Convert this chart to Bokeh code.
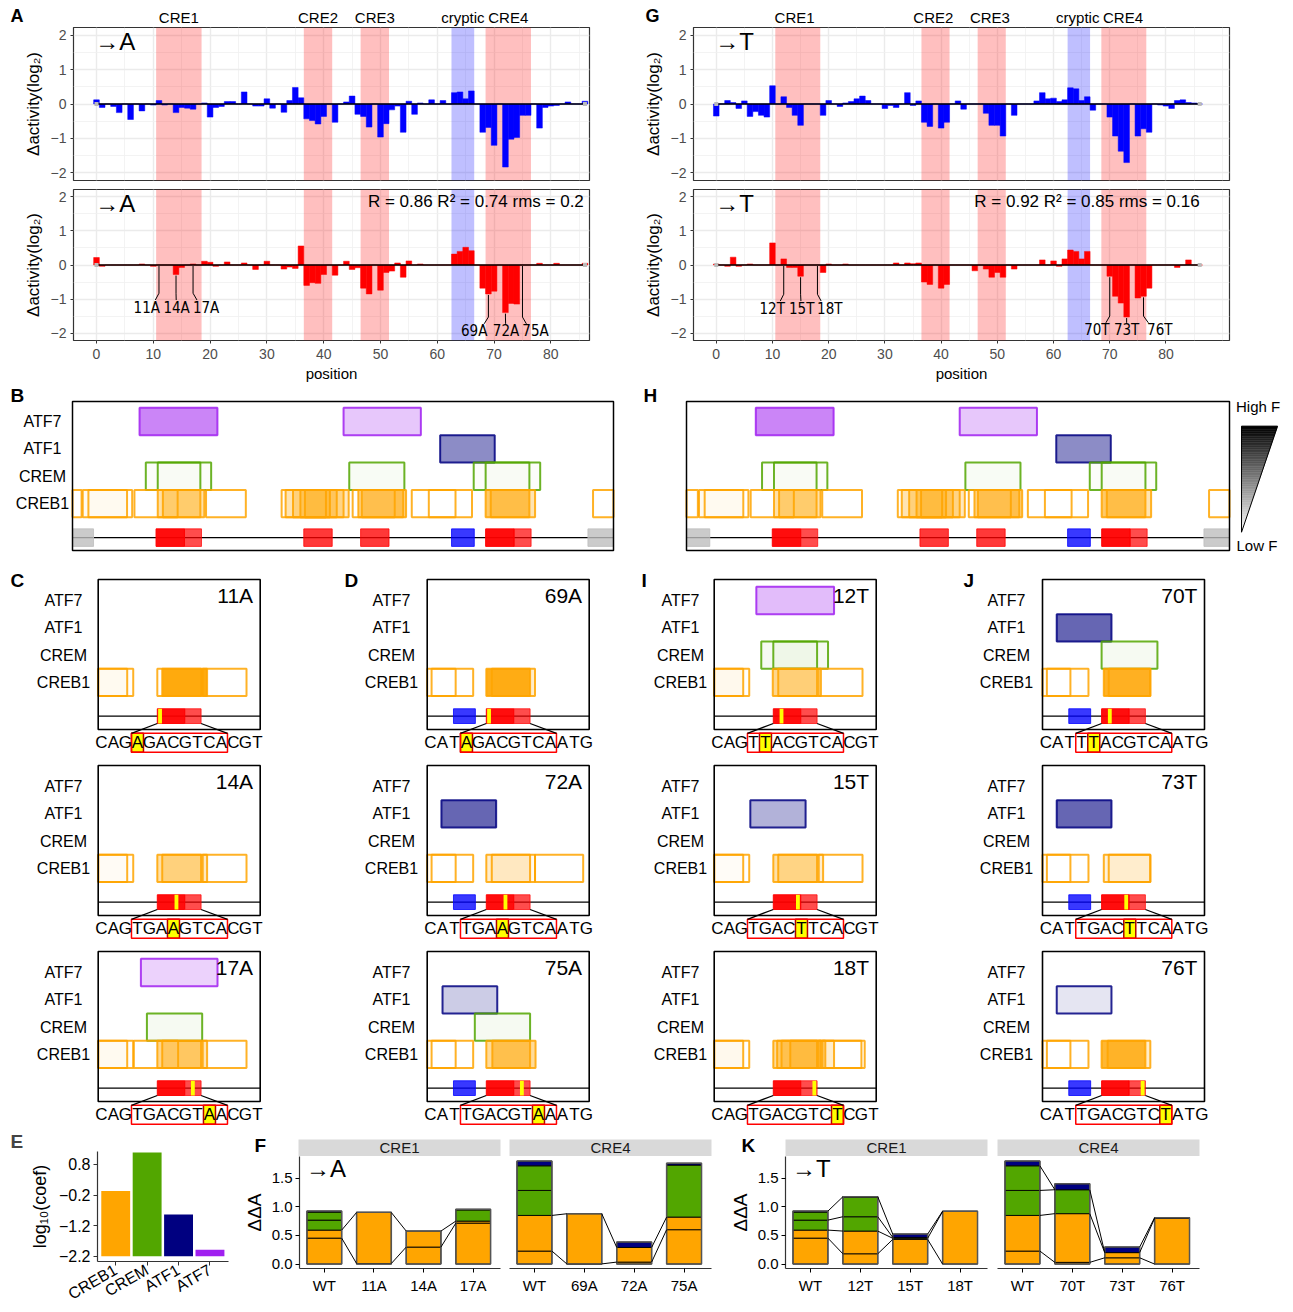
import math
import numpy as np
from bokeh.plotting import figure
from bokeh.models import Range1d, FixedTicker, BoxAnnotation
from bokeh.layouts import column, row
from bokeh.core.properties import value
from bokeh.embed import file_html
from bokeh.resources import INLINE

FONT = "Liberation Sans"
NARROW = "DejaVu Sans Condensed, Liberation Sans, sans-serif"

# ======================= DATA =======================
POSITIONS = list(range(87))
ACT_A_MEASURED = [0.12, -0.1, 0, -0.07, -0.25, 0, -0.45, 0, -0.2, 0,
                  -0.03, 0.1, -0.03, 0, -0.25, -0.1, -0.12, -0.15, 0, 0.03,
                  -0.38, -0.1, -0.07, 0.07, 0.07, 0, 0.35, 0, -0.06, -0.06,
                  0.15, -0.12, 0, -0.24, 0.1, 0.48, 0.18, -0.43, -0.48, -0.58,
                  -0.36, 0, -0.53, 0, 0.06, 0.23, -0.3, -0.36, -0.67, 0,
                  -0.96, -0.57, -0.17, -0.06, -0.82, 0.08, -0.3, 0.03, 0, 0.12,
                  0, 0.1, 0, 0.33, 0.35, 0.15, 0.38, 0, -0.82, -0.68,
                  -1.2, 0, -1.83, -1.02, -0.97, -0.33, -0.33, 0, -0.7, -0.1,
                  -0.06, -0.04, 0, 0.06, 0, 0, 0.08]
ACT_A_MODEL = [0.22, -0.04, 0, 0, 0, 0, 0, 0, 0.03, 0,
               -0.04, 0, 0, 0, -0.28, -0.07, 0, 0.03, 0, 0.11,
               0.08, -0.04, 0, 0.09, 0, 0, 0.06, 0, -0.13, 0,
               0.11, 0, 0, -0.12, -0.06, -0.1, 0.56, -0.6, -0.52, -0.54,
               -0.28, 0, -0.3, 0, 0.11, -0.13, -0.08, -0.68, -0.85, 0,
               -0.74, -0.22, -0.18, 0.06, -0.36, 0.12, 0, 0.03, 0, 0,
               0, 0, 0, 0.32, 0.4, 0.52, 0.42, 0, -0.68, -0.85,
               -0.77, 0, -1.4, -1.13, -1.15, 0, 0, 0, 0.05, 0,
               0, 0.05, 0, 0, 0, 0, 0.05]
ACT_T_MEASURED = [-0.35, 0, 0.1, 0.04, -0.13, 0.09, -0.36, -0.22, -0.33, -0.38,
                  0.53, 0, 0.21, -0.1, -0.33, -0.62, 0, 0, 0, -0.33,
                  0.1, 0, -0.07, 0.03, 0.07, 0.15, 0.23, 0.1, 0, 0,
                  -0.13, -0.04, -0.1, 0, 0.33, -0.04, 0.09, -0.53, -0.65, 0,
                  -0.7, -0.53, 0, 0.09, -0.15, 0, 0, 0, -0.27, -0.62,
                  -0.62, -0.93, 0, -0.33, 0, 0, 0, 0.09, 0.33, 0.15,
                  0.17, 0.07, 0.12, 0.47, 0.44, 0.1, 0.21, -0.18, 0, 0,
                  -0.38, -0.93, -1.37, -1.7, 0, -0.93, -0.72, -0.82, 0, -0.03,
                  -0.06, -0.13, 0.1, 0.12, 0.04, 0.03, 0]
ACT_T_MODEL = [0.03, 0, -0.04, 0.23, -0.04, 0, 0.03, 0, 0, 0,
               0.65, 0, 0.18, -0.07, -0.07, -0.33, 0, 0, 0, -0.22,
               0.03, 0, 0, 0.03, 0, 0, 0, 0, 0, 0,
               0, 0, 0.06, 0, 0.06, 0.04, 0.06, -0.5, -0.57, 0,
               -0.68, -0.57, 0, 0, 0, 0, -0.17, 0, -0.12, -0.36,
               -0.22, -0.36, 0, -0.12, 0, 0, 0, 0, 0.15, 0,
               0.12, -0.04, 0.18, 0.44, 0.4, 0.18, 0.4, 0, 0, 0,
               -0.33, -0.92, -1.12, -1.53, 0, -0.97, -0.92, -0.68, 0, 0,
               0, 0, -0.07, 0, 0.15, 0, 0]

REGION_NAMES = ["CRE1", "CRE2", "CRE3", "cryptic", "CRE4"]
REGION_START = [10.5, 36.5, 46.5, 62.5, 68.5]
REGION_END = [18.5, 41.5, 51.5, 66.5, 76.5]
REGION_COLOR = ["red", "red", "red", "blue", "red"]

MUT_A_NAMES = ["11A", "14A", "17A", "69A", "72A", "75A"]
MUT_A_POS = [11, 14, 17, 69, 72, 75]
MUT_A_LABEL_X = [8.85, 14.1, 19.3, 66.5, 72.1, 77.3]
MUT_A_LABEL_Y = [-1.25, -1.25, -1.25, -1.95, -1.95, -1.95]
MUT_T_NAMES = ["12T", "15T", "18T", "70T", "73T", "76T"]
MUT_T_POS = [12, 15, 18, 70, 73, 76]
MUT_T_LABEL_X = [9.95, 15.2, 20.2, 67.7, 73.0, 78.9]
MUT_T_LABEL_Y = [-1.28, -1.28, -1.28, -1.92, -1.92, -1.92]
STATS_A = "R = 0.86 R² = 0.74 rms = 0.2"
STATS_T = "R = 0.92 R² = 0.85 rms = 0.16"

TF_NAMES = ["CREB1", "CREM", "ATF1", "ATF7"]
TF_COLORS = ["#FFA500", "#52A600", "#000080", "#A020F0"]

# binding sites: (factor, start, end, occupancy shading)
SITES_WT = [
    ("ATF7", 7.6, 21.3, 0.55), ("ATF7", 43.5, 57.1, 0.25),
    ("ATF1", 60.5, 70.1, 0.45),
    ("CREM", 8.7, 20.2, 0.02), ("CREM", 10.8, 18.3, 0.02), ("CREM", 44.5, 54.2, 0.04),
    ("CREM", 66.4, 78.1, 0.02), ("CREM", 68.5, 76.2, 0.02),
    ("CREB1", -10.4, -2.6, 0.0), ("CREB1", -2.4, 5.4, 0.06), ("CREB1", -1.4, 6.3, 0.0),
    ("CREB1", 6.7, 14.3, 0.0), ("CREB1", 10.8, 18.3, 0.35), ("CREB1", 11.7, 19.0, 0.35),
    ("CREB1", 19.3, 26.3, 0.0),
    ("CREB1", 32.6, 40.4, 0.0), ("CREB1", 33.3, 41.1, 0.3), ("CREB1", 34.6, 42.3, 0.3),
    ("CREB1", 35.9, 43.5, 0.3), ("CREB1", 36.7, 44.4, 0.25),
    ("CREB1", 45.1, 52.5, 0.0), ("CREB1", 46.1, 54.0, 0.45), ("CREB1", 46.7, 54.5, 0.45),
    ("CREB1", 55.5, 63.2, 0.0), ("CREB1", 58.5, 66.1, 0.0),
    ("CREB1", 68.5, 76.2, 0.6), ("CREB1", 69.4, 77.2, 0.3),
    ("CREB1", 87.4, 95.0, 0.0),
]

ELEM_START = [10.5, 15.5, 36.5, 46.5, 62.5, 68.5, 73.5]
ELEM_END = [15.5, 18.5, 41.5, 51.5, 66.5, 73.5, 76.5]
ELEM_COLOR = ["red", "red", "red", "red", "blue", "red", "red"]
ELEM_ALPHA = [0.95, 0.7, 0.78, 0.78, 0.78, 0.95, 0.7]
FLANK_START = [-10.0, 86.5]
FLANK_END = [-0.5, 100.0]

MINI_WIN = {"CRE1": (-0.3, 29.3), "CRE4": (57.7, 87.3)}
SEQ_FIRST = {"CRE1": 8, "CRE4": 66}

MINI_11A = [("CREB1", -3.0, 5.0, 0.06), ("CREB1", -3.0, 6.1, 0.0), ("CREB1", 10.5, 18.5, 0.0),
            ("CREB1", 11.4, 19.6, 0.95), ("CREB1", 18.8, 26.8, 0.0)]
MINI_14A = [("CREB1", -3.0, 5.0, 0.04), ("CREB1", -3.0, 6.1, 0.0), ("CREB1", 10.5, 18.5, 0.35),
            ("CREB1", 11.4, 19.6, 0.25), ("CREB1", 18.8, 26.8, 0.0)]
MINI_17A = [("ATF7", 7.5, 21.5, 0.2), ("CREM", 8.6, 18.7, 0.05),
            ("CREB1", -3.0, 5.0, 0.06), ("CREB1", -3.0, 6.1, 0.0), ("CREB1", 6.2, 14.3, 0.0),
            ("CREB1", 10.5, 18.5, 0.45), ("CREB1", 11.4, 19.6, 0.3), ("CREB1", 18.8, 26.8, 0.0)]
MINI_69A = [("CREB1", 55.5, 62.9, 0.0), ("CREB1", 58.5, 66.1, 0.0),
            ("CREB1", 68.5, 76.5, 0.9), ("CREB1", 69.5, 77.4, 0.2)]
MINI_72A = [("ATF1", 60.3, 70.3, 0.6),
            ("CREB1", 55.5, 62.9, 0.0), ("CREB1", 58.5, 66.1, 0.0),
            ("CREB1", 68.5, 76.5, 0.2), ("CREB1", 69.5, 77.4, 0.05), ("CREB1", 77.4, 86.2, 0.0)]
MINI_75A = [("ATF1", 60.5, 70.5, 0.2), ("CREM", 66.4, 76.5, 0.05),
            ("CREB1", 55.5, 62.9, 0.0), ("CREB1", 58.5, 66.1, 0.0),
            ("CREB1", 68.5, 77.5, 0.4), ("CREB1", 69.6, 76.5, 0.5)]
MINI_12T = [("ATF7", 7.4, 21.6, 0.3), ("CREM", 8.3, 20.5, 0.05), ("CREM", 10.5, 18.5, 0.04),
            ("CREB1", -3.0, 5.0, 0.07), ("CREB1", -3.0, 6.1, 0.0),
            ("CREB1", 10.4, 18.5, 0.45), ("CREB1", 11.4, 19.2, 0.15), ("CREB1", 18.8, 26.8, 0.0)]
MINI_15T = [("ATF1", 6.3, 16.4, 0.3),
            ("CREB1", -3.0, 5.0, 0.03), ("CREB1", -3.0, 6.1, 0.0),
            ("CREB1", 10.5, 18.5, 0.35), ("CREB1", 11.4, 19.6, 0.2), ("CREB1", 18.8, 26.8, 0.0)]
MINI_18T = [("CREB1", -3.0, 5.0, 0.07), ("CREB1", -3.0, 6.1, 0.0),
            ("CREB1", 10.5, 18.5, 0.4), ("CREB1", 11.2, 19.2, 0.3), ("CREB1", 12.0, 20.0, 0.25),
            ("CREB1", 13.6, 21.6, 0.2), ("CREB1", 18.8, 26.6, 0.0), ("CREB1", 19.5, 27.2, 0.0)]
MINI_70T = [("ATF1", 60.3, 70.3, 0.6), ("CREM", 68.5, 78.7, 0.05),
            ("CREB1", 55.5, 62.8, 0.0), ("CREB1", 58.5, 66.1, 0.0),
            ("CREB1", 68.9, 77.4, 0.85), ("CREB1", 69.8, 77.4, 0.1)]
MINI_73T = [("ATF1", 60.3, 70.3, 0.6),
            ("CREB1", 55.5, 62.8, 0.0), ("CREB1", 58.5, 66.1, 0.0),
            ("CREB1", 68.9, 77.4, 0.15), ("CREB1", 69.8, 77.4, 0.05)]
MINI_76T = [("ATF1", 60.3, 70.3, 0.1),
            ("CREB1", 55.5, 62.8, 0.0), ("CREB1", 58.5, 66.1, 0.0),
            ("CREB1", 68.5, 76.5, 0.8), ("CREB1", 69.6, 77.4, 0.2)]

SEQ_11A = "CAGAGACGTCACGT"
SEQ_14A = "CAGTGAAGTCACGT"
SEQ_17A = "CAGTGACGTAACGT"
SEQ_69A = "CATAGACGTCAATG"
SEQ_72A = "CATTGAAGTCAATG"
SEQ_75A = "CATTGACGTAAATG"
SEQ_12T = "CAGTTACGTCACGT"
SEQ_15T = "CAGTGACTTCACGT"
SEQ_18T = "CAGTGACGTCTCGT"
SEQ_70T = "CATTTACGTCAATG"
SEQ_73T = "CATTGACTTCAATG"
SEQ_76T = "CATTGACGTCTATG"

E_TF = ["CREB1", "CREM", "ATF1", "ATF7"]
E_LOG10_COEF = [-0.07, 1.19, -0.84, -1.99]
E_BASE = -2.2

# stacked segments: CREB1 site a, CREB1 site b, CREM a, CREM b, ATF1, ATF7
F_CRE1_LABELS = ["WT", "11A", "14A", "17A"]
F_CRE1_SEGS = [[0.453, 0.14, 0.174, 0.14, 0.017, 0], [0.01, 0.89, 0, 0, 0.003, 0],
               [0.297, 0.279, 0, 0, 0, 0], [0.715, 0.035, 0.195, 0, 0.01, 0]]
F_CRE1_LINKS = [[1, 2], [1, 2], [1, 2]]
F_CRE4_LABELS = ["WT", "69A", "72A", "75A"]
F_CRE4_SEGS = [[0.227, 0.622, 0.436, 0.43, 0.082, 0], [0.003, 0.875, 0, 0, 0, 0],
               [0.035, 0.255, 0, 0, 0.094, 0], [0.6, 0.22, 0.907, 0, 0.033, 0]]
F_CRE4_LINKS = [[1, 2], [1, 2], [1, 2]]
K_CRE1_LABELS = ["WT", "12T", "15T", "18T"]
K_CRE1_SEGS = [[0.453, 0.14, 0.174, 0.14, 0.017, 0], [0.18, 0.396, 0.25, 0.343, 0.005, 0],
               [0.43, 0.02, 0.015, 0, 0.058, 0], [0.0, 0.918, 0, 0, 0.005, 0]]
K_CRE1_LINKS = [[1, 2, 3, 5], [1, 2, 3, 5], [1, 2, 5]]
K_CRE4_LABELS = ["WT", "70T", "73T", "76T"]
K_CRE4_SEGS = [[0.227, 0.622, 0.436, 0.43, 0.082, 0], [0.03, 0.85, 0.417, 0, 0.103, 0],
               [0.11, 0.09, 0, 0, 0.097, 0], [0.0, 0.80, 0, 0, 0.01, 0]]
K_CRE4_LINKS = [[1, 2, 3, 4], [1, 2, 4], [1, 2, 5]]

# ======================= STYLE / GEOMETRY =======================
X_TICKS = [0, 10, 20, 30, 40, 50, 60, 70, 80]
X_MINOR = [-5, 5, 15, 25, 35, 45, 55, 65, 75, 85, 90]
Y_TICKS = [-2, -1, 0, 1, 2]
Y_MINOR = [-1.5, -0.5, 0.5, 1.5]
X_START = -4.05
ACT_Y = (-2.22, 2.22)
B_FRAME_Y = (-0.71, 4.73)
B_FIG_Y = (-1.44, 5.278)
SEQ_Y = -0.24
SEQ_H_B = 0.32
SEQ_H_MINI = 0.27
MINI_Y = (-1.72, 5.1)
MINI_FRAME = (-0.73, 4.77)
TXT_Y = -1.2
TXT_BOX = (-1.56, -0.87)
SEG_COLORS = ["#FFA500", "#FFA500", "#52A600", "#52A600", "#000080", "#A020F0"]
BAR_W = 0.7
TF_ROW = {n: i + 1 for i, n in enumerate(TF_NAMES)}
TF_COL = dict(zip(TF_NAMES, TF_COLORS))


def new_fig(w, h, xr, yr, bl, br, bt, bb):
    p = figure(width=w, height=h, x_range=Range1d(*xr), y_range=Range1d(*yr),
               output_backend="svg", toolbar_location=None,
               min_border_left=bl, min_border_right=br, min_border_top=bt, min_border_bottom=bb)
    p.background_fill_color = "white"
    p.border_fill_color = "white"
    return p


def bare(p):
    p.axis.visible = False
    p.grid.visible = False
    p.outline_line_color = None


def txt(p, xs, ys, texts, size, align="center", bold=False, font=FONT, color="black"):
    p.text(x=xs, y=ys, text=texts, text_font=value(font), text_font_size=value(size),
           text_font_style="bold" if bold else "normal", text_align=align,
           text_baseline="middle", text_color=color)


def style_axis(ax, size="14px", color="#4D4D4D"):
    ax.major_label_text_font = FONT
    ax.major_label_text_font_size = size
    ax.major_label_text_color = color
    ax.axis_label_text_font = FONT
    ax.axis_label_text_font_style = "normal"
    ax.axis_label_text_color = "black"
    ax.minor_tick_line_color = None


def draw_sites(p, sites, lo, hi):
    left, right, bot, top, col, alp = [], [], [], [], [], []
    for tf, s, e, a in sites:
        s, e = max(s, lo), min(e, hi)
        if e <= s:
            continue
        r = TF_ROW[tf]
        left.append(s); right.append(e); bot.append(r - 0.5); top.append(r + 0.5)
        col.append(TF_COL[tf]); alp.append(a)
    p.quad(left=left, right=right, bottom=bot, top=top, fill_color=col, fill_alpha=alp,
           line_color=col, line_alpha=0.85, line_width=2)


def seq_elements(p, half_h, lo, hi, flanks=True):
    left, right, cols, alps = [], [], [], []
    if flanks:
        for s, e in zip(FLANK_START, FLANK_END):
            s, e = max(s, lo), min(e, hi)
            if e > s:
                left.append(s); right.append(e); cols.append("#BEBEBE"); alps.append(0.8)
    for s, e, c, a in zip(ELEM_START, ELEM_END, ELEM_COLOR, ELEM_ALPHA):
        s, e = max(s, lo), min(e, hi)
        if e <= s:
            continue
        left.append(s); right.append(e); cols.append(c); alps.append(a)
    p.quad(left=left, right=right, bottom=SEQ_Y - half_h, top=SEQ_Y + half_h,
           fill_color=cols, fill_alpha=alps, line_color=cols, line_alpha=alps, line_width=1)


def header_fig(w, x_end, bl, br, letter, letter_x):
    s = (w - bl - br) / (x_end - X_START)
    p = new_fig(w, 27, (X_START - bl / s, x_end + br / s), (0, 27), 0, 0, 0, 0)
    bare(p)
    centers = [(a + b) / 2 for a, b in zip(REGION_START, REGION_END)]
    txt(p, centers, [10] * len(centers), REGION_NAMES, "15px")
    txt(p, [X_START + (letter_x - bl) / s], [11.5], [letter], "18px", "left", True)
    return p


def activity_fig(vals, color, x_end, w, h, bl, br, bt, bb, show_x, arrow, stats=None, muts=None):
    p = new_fig(w, h, (X_START, x_end), ACT_Y, bl, br, bt, bb)
    p.outline_line_color = "#333333"
    p.outline_line_width = 1.2
    p.xaxis.ticker = FixedTicker(ticks=X_TICKS, minor_ticks=X_MINOR)
    p.yaxis.ticker = FixedTicker(ticks=Y_TICKS, minor_ticks=Y_MINOR)
    for g in (p.xgrid[0], p.ygrid[0]):
        g.grid_line_color = "#EBEBEB"
        g.grid_line_width = 1.4
        g.minor_grid_line_color = "#F0F0F0"
        g.minor_grid_line_width = 0.8
    for ax in (p.xaxis[0], p.yaxis[0]):
        style_axis(ax)
        ax.axis_line_color = None
        ax.major_tick_line_color = "#333333"
        ax.major_tick_out = 3
        ax.major_tick_in = 0
        ax.major_label_standoff = 3
    p.yaxis.axis_label = "Δactivity(log₂)"
    p.yaxis.axis_label_text_font_size = "17px"
    p.yaxis.axis_label_standoff = 5
    if show_x:
        p.xaxis.axis_label = "position"
        p.xaxis.axis_label_text_font_size = "15px"
        p.xaxis.axis_label_standoff = 3
        p.xaxis.major_label_standoff = 4
    else:
        p.xaxis.visible = False
    for s, e, c in zip(REGION_START, REGION_END, REGION_COLOR):
        p.add_layout(BoxAnnotation(left=s, right=e, fill_color=c, fill_alpha=0.25,
                                   line_color=None, level="underlay"))
    p.vbar(x=POSITIONS, top=vals, bottom=0, width=1.0, fill_color=color, line_color=color,
           line_width=0.5)
    p.line(x=[POSITIONS[0], POSITIONS[-1]], y=[0, 0], line_color="black", line_width=1.3)
    p.scatter(x=[POSITIONS[0], POSITIONS[-1]], y=[0, 0], marker="square", size=4,
              fill_color="#BBBBBB", line_color=None)
    txt(p, [-0.2], [1.8], [arrow], "24px", "left")
    if stats:
        txt(p, [stats[1]], [1.87], [stats[0]], "17px", "right")
    if muts:
        names, pos, lx, ly = muts
        xs, ys = [], []
        for x0, tx, ty in zip(pos, lx, ly):
            y0 = min(vals[x0], 0) - 0.03
            bend = min(ty + 0.42, y0)
            xs.append([x0, x0, x0 + 0.3 * (tx - x0)])
            ys.append([y0, bend, ty + 0.22])
        p.multi_line(xs, ys, line_color="black", line_width=1)
        txt(p, lx, ly, names, "15px", font=NARROW)
    return p


def binding_fig(sites, xr, frame_px, fig_left, w, lab_x=None, letter=None, letter_x=None):
    x0, x1 = xr
    fl, fr = frame_px
    s = (fr - fl) / (x1 - x0)
    p = new_fig(w, 184, (x0 - (fl - fig_left) / s, x1 + (fig_left + w - fr) / s), B_FIG_Y,
                0, 0, 0, 0)
    bare(p)
    p.segment(x0=[x0], y0=[SEQ_Y], x1=[x1], y1=[SEQ_Y], line_color="black", line_width=1.2)
    seq_elements(p, SEQ_H_B, x0, x1)
    draw_sites(p, sites, x0, x1)
    p.quad(left=[x0], right=[x1], bottom=[B_FRAME_Y[0]], top=[B_FRAME_Y[1]], fill_color=None,
           line_color="black", line_width=1.5)
    if lab_x is not None:
        xl = x0 + (lab_x - fl) / s
        txt(p, [xl] * 4, [TF_ROW[n] for n in TF_NAMES], TF_NAMES, "16px")
    if letter:
        txt(p, [x0 + (letter_x - fl) / s], [4.95], [letter], "19px", "left", True)
    return p


def legend_fig():
    p = new_fig(61, 184, (0, 1), (0, 1), 0, 0, 0, 0)
    bare(p)
    top, bot, l, r = 0.784, 0.208, 0.148, 0.738
    n = 60
    lv = np.linspace(0, 1, n + 1)
    xs, ys, cols = [], [], []
    for k in range(n):
        t0, t1 = lv[k], lv[k + 1]
        y0 = top - t0 * (top - bot)
        y1 = top - t1 * (top - bot)
        xs.append([l, l + (1 - t0) * (r - l), l + (1 - t1) * (r - l), l])
        ys.append([y0, y0, y1, y1])
        g = int(round(255 * (t0 + t1) / 2))
        cols.append("#%02x%02x%02x" % (g, g, g))
    p.patches(xs, ys, fill_color=cols, line_color=cols, line_width=0.5)
    p.patch([l, r, l], [top, top, bot], fill_color=None, line_color="black", line_width=1)
    txt(p, [0.42, 0.40], [0.893, 0.136], ["High F", "Low F"], "15px")
    return p


def mini_fig(sites, region, seq, mut_pos, label, geom, letter=None):
    fig_left, w, frame_left, lab_x, letter_x = geom
    w0, w1 = MINI_WIN[region]
    first = SEQ_FIRST[region]
    ri = REGION_NAMES.index(region)
    cre_lo, cre_hi = REGION_START[ri], REGION_END[ri]
    s = 162.0 / (w1 - w0)
    xr = (w0 - (frame_left - fig_left) / s, w1 + (fig_left + w - frame_left - 162) / s)
    p = new_fig(w, 186, xr, MINI_Y, 0, 0, 0, 0)
    bare(p)
    p.segment(x0=[w0], y0=[SEQ_Y], x1=[w1], y1=[SEQ_Y], line_color="black", line_width=1.2)
    seq_elements(p, SEQ_H_MINI, w0, w1, flanks=False)
    p.quad(left=[mut_pos - 0.35], right=[mut_pos + 0.35], bottom=[SEQ_Y - SEQ_H_MINI],
           top=[SEQ_Y + SEQ_H_MINI], fill_color="yellow", line_color=None)
    draw_sites(p, sites, w0, w1)
    p.quad(left=[w0], right=[w1], bottom=[MINI_FRAME[0]], top=[MINI_FRAME[1]],
           fill_color=None, line_color="black", line_width=1.6)
    txt(p, [w1 - 1.3], [4.2], [label], "21px", "right")
    xl = w0 + (lab_x - frame_left) / s
    txt(p, [xl] * 4, [TF_ROW[n] for n in TF_NAMES], TF_NAMES, "16px")
    if letter:
        txt(p, [w0 + (letter_x - frame_left) / s], [4.74], [letter], "19px", "left", True)
    # sequence text
    tl = w0 - 0.5
    cw = (w1 - w0 + 1.1) / len(seq)
    cx = [tl + (k + 0.5) * cw for k in range(len(seq))]
    m = mut_pos - first
    c0 = int(cre_lo + 0.5) - first
    c1 = int(cre_hi - 0.5) - first + 1
    p.quad(left=[tl + m * cw], right=[tl + (m + 1) * cw], bottom=[TXT_BOX[0]], top=[TXT_BOX[1]],
           fill_color="yellow", line_color="#B00000", line_width=1.5)
    p.quad(left=[tl + c0 * cw], right=[tl + c1 * cw], bottom=[TXT_BOX[0]], top=[TXT_BOX[1]],
           fill_color=None, line_color="red", line_width=1.5)
    p.multi_line([[cre_lo, tl + c0 * cw], [cre_hi, tl + c1 * cw]],
                 [[SEQ_Y - SEQ_H_MINI, TXT_BOX[1]], [SEQ_Y - SEQ_H_MINI, TXT_BOX[1]]],
                 line_color="black", line_width=1.3)
    txt(p, cx, [TXT_Y] * len(seq), list(seq), "17px")
    return p


def e_fig():
    p = new_fig(240, 184, (0.42, 4.59), (-2.37, 1.22), 97, 12, 17, 40)
    p.grid.visible = False
    p.outline_line_color = None
    p.title.text = "E"
    p.title.align = "left"
    p.title.offset = -87
    p.title.standoff = 0
    p.title.text_font = FONT
    p.title.text_font_size = "19px"
    p.title.text_font_style = "bold"
    xs = list(range(1, len(E_TF) + 1))
    p.vbar(x=xs, bottom=E_BASE, top=E_LOG10_COEF, width=0.92,
           fill_color=[TF_COL[t] for t in E_TF], line_color=None)
    p.yaxis.ticker = FixedTicker(ticks=[0.8, -0.2, -1.2, -2.2])
    p.xaxis.ticker = FixedTicker(ticks=xs)
    p.xaxis.major_label_overrides = {x: t for x, t in zip(xs, E_TF)}
    p.xaxis.major_label_orientation = math.pi / 6
    for ax in (p.xaxis[0], p.yaxis[0]):
        style_axis(ax, "16px", "black")
        ax.axis_line_color = "#333333"
        ax.axis_line_width = 1.2
        ax.major_tick_line_color = "#333333"
        ax.major_tick_out = 4
        ax.major_tick_in = 0
        ax.major_label_standoff = 3
    p.yaxis.axis_label = "log₁₀(coef)"
    p.yaxis.axis_label_text_font_size = "18px"
    p.yaxis.axis_label_standoff = 6
    return p


def strip_fig(text, w, fl, letter=None, letter_x=None):
    p = new_fig(w, 28, (0, w), (0, 28), 0, 0, 0, 0)
    bare(p)
    p.quad(left=[fl], right=[fl + 202], bottom=[0.3], top=[17], fill_color="#D9D9D9",
           line_color=None)
    txt(p, [fl + 101], [8.6], [text], "15px", color="#1A1A1A")
    if letter:
        txt(p, [letter_x], [11], [letter], "19px", "left", True)
    return p


def facet_fig(labels, segs, links, w, bl, br, show_y, arrow=None):
    p = new_fig(w, 156, (0.5, 4.55), (-0.077, 1.877), bl, br, 0, 44)
    p.grid.visible = False
    p.outline_line_color = None
    n = len(labels)
    xs = np.arange(1, n + 1)
    segs = np.array(segs, dtype=float)
    cum = np.cumsum(segs, axis=1)
    bottoms = cum - segs
    left, right, bot, top, col = [], [], [], [], []
    for j in range(n):
        for k in range(segs.shape[1]):
            if segs[j, k] > 0:
                left.append(xs[j] - BAR_W / 2); right.append(xs[j] + BAR_W / 2)
                bot.append(bottoms[j, k]); top.append(cum[j, k]); col.append(SEG_COLORS[k])
    p.quad(left=left, right=right, bottom=bot, top=top, fill_color=col, line_color="black",
           line_width=0.9)
    p.quad(left=xs - BAR_W / 2, right=xs + BAR_W / 2, bottom=0, top=cum[:, -1],
           fill_color=None, line_color="#555555", line_width=1.5)
    lx, ly = [], []
    for j, ks in enumerate(links):
        for k in ks:
            lx.append([xs[j] + BAR_W / 2, xs[j + 1] - BAR_W / 2])
            ly.append([cum[j, k - 1], cum[j + 1, k - 1]])
    p.multi_line(lx, ly, line_color="black", line_width=1)
    p.xaxis.ticker = FixedTicker(ticks=list(xs))
    p.xaxis.major_label_overrides = {int(x): t for x, t in zip(xs, labels)}
    style_axis(p.xaxis[0], "15px", "black")
    p.xaxis.axis_line_color = "#333333"
    p.xaxis.axis_line_width = 1.2
    p.xaxis.major_tick_out = 4
    p.xaxis.major_tick_in = 0
    p.xaxis.major_label_standoff = 4
    if show_y:
        p.yaxis.ticker = FixedTicker(ticks=[0, 0.5, 1.0, 1.5])
        p.yaxis.major_label_overrides = {0: "0.0", 0.5: "0.5", 1: "1.0", 1.5: "1.5"}
        style_axis(p.yaxis[0], "15px", "black")
        p.yaxis.axis_line_color = "#333333"
        p.yaxis.axis_line_width = 1.2
        p.yaxis.major_tick_out = 4
        p.yaxis.major_tick_in = 0
        p.yaxis.major_label_standoff = 3
        p.yaxis.axis_label = "ΔΔA"
        p.yaxis.axis_label_text_font_size = "19px"
        p.yaxis.axis_label_standoff = 4
    else:
        p.yaxis.visible = False
    if arrow:
        txt(p, [0.63], [1.66], [arrow], "24px", "left")
    return p


# ======================= BUILD =======================
hdr_a = header_fig(640, 86.8, 73, 51, "A", 10)
a_top = activity_fig(ACT_A_MEASURED, "blue", 86.8, 640, 159, 73, 51, 0, 6, False, "→A")
a_bot = activity_fig(ACT_A_MODEL, "red", 86.8, 640, 200, 73, 51, 3, 46, True, "→A",
                     stats=(STATS_A, 85.8),
                     muts=(MUT_A_NAMES, MUT_A_POS, MUT_A_LABEL_X, MUT_A_LABEL_Y))
hdr_g = header_fig(653, 91.3, 49, 64, "G", 5)
g_top = activity_fig(ACT_T_MEASURED, "blue", 91.3, 653, 159, 49, 64, 0, 6, False, "→T")
g_bot = activity_fig(ACT_T_MODEL, "red", 91.3, 653, 200, 49, 64, 3, 46, True, "→T",
                     stats=(STATS_T, 86.0),
                     muts=(MUT_T_NAMES, MUT_T_POS, MUT_T_LABEL_X, MUT_T_LABEL_Y))

b_fig = binding_fig(SITES_WT, (-4.2, 91.0), (72, 613), 0, 640, lab_x=42, letter="B", letter_x=10)
h_fig = binding_fig(SITES_WT, (-4.6, 91.0), (686, 1229), 640, 592, letter="H", letter_x=643)
leg = legend_fig()

MINI_SPECS = [
    [(MINI_11A, "CRE1", SEQ_11A, 11, "11A"), (MINI_69A, "CRE4", SEQ_69A, 69, "69A"),
     (MINI_12T, "CRE1", SEQ_12T, 12, "12T"), (MINI_70T, "CRE4", SEQ_70T, 70, "70T")],
    [(MINI_14A, "CRE1", SEQ_14A, 14, "14A"), (MINI_72A, "CRE4", SEQ_72A, 72, "72A"),
     (MINI_15T, "CRE1", SEQ_15T, 15, "15T"), (MINI_73T, "CRE4", SEQ_73T, 73, "73T")],
    [(MINI_17A, "CRE1", SEQ_17A, 17, "17A"), (MINI_75A, "CRE4", SEQ_75A, 75, "75A"),
     (MINI_18T, "CRE1", SEQ_18T, 18, "18T"), (MINI_76T, "CRE4", SEQ_76T, 76, "76T")],
]
# (figure left, figure width, frame left, label centre, panel letter x)
COL_GEOM = [(0, 330, 97.7, 63, 10), (330, 310, 426.7, 391, 344),
            (640, 320, 713.7, 680, 641), (960, 333, 1042, 1006, 963)]
COL_LETTERS = ["C", "D", "I", "J"]
mini_rows = []
for ri, specs in enumerate(MINI_SPECS):
    figs = []
    for ci, ((sites, reg, seq, mp, lab), geom) in enumerate(zip(specs, COL_GEOM)):
        figs.append(mini_fig(sites, reg, seq, mp, lab, geom,
                             letter=COL_LETTERS[ci] if ri == 0 else None))
    mini_rows.append(figs)

e_plot = e_fig()
f1s = strip_fig("CRE1", 265, 58, "F", 14)
f1p = facet_fig(F_CRE1_LABELS, F_CRE1_SEGS, F_CRE1_LINKS, 265, 58, 5, True, "→A")
f2s = strip_fig("CRE4", 215, 4)
f2p = facet_fig(F_CRE4_LABELS, F_CRE4_SEGS, F_CRE4_LINKS, 215, 4, 9, False)
k1s = strip_fig("CRE1", 271, 65, "K", 21)
k1p = facet_fig(K_CRE1_LABELS, K_CRE1_SEGS, K_CRE1_LINKS, 271, 65, 4, True, "→T")
k2s = strip_fig("CRE4", 302, 6)
k2p = facet_fig(K_CRE4_LABELS, K_CRE4_SEGS, K_CRE4_LINKS, 302, 6, 94, False)

layout = column(
    row(hdr_a, hdr_g),
    row(column(a_top, a_bot), column(g_top, g_bot)),
    row(b_fig, h_fig, leg),
    row(*mini_rows[0]),
    row(*mini_rows[1]),
    row(*mini_rows[2]),
    row(e_plot, column(row(f1s, f2s, k1s, k2s), row(f1p, f2p, k1p, k2p))),
)

with open("out.html", "w") as fh:
    fh.write(file_html(layout, INLINE, title="CRE mutation analysis"))
